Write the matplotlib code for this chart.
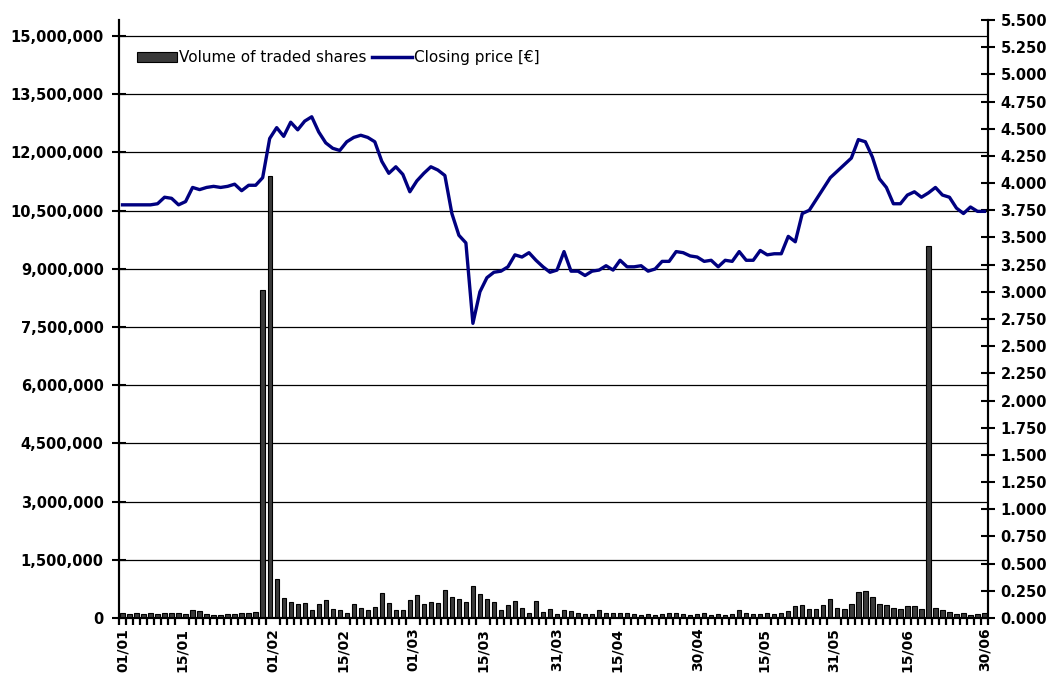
import numpy as np
import matplotlib
matplotlib.use("Agg")
import matplotlib.pyplot as plt
from matplotlib.ticker import FuncFormatter, MultipleLocator, FixedLocator
from matplotlib.patches import Patch
from matplotlib.lines import Line2D

# ---------------- data (one value per trading day) ----------------
volume = [
    120000, 100000, 120000, 100000, 129000, 100000, 129000, 129000, 129000, 100000,
    206000, 190000, 100000, 86000, 86000, 100000, 100000, 120000, 129000, 163000,
    8450000, 11390000, 997000, 520000, 410000, 360000, 387000, 206000, 360000, 464000,
    232000, 206000, 129000, 360000, 258000, 206000, 292000, 644000, 387000, 206000,
    206000, 464000, 593000, 360000, 421000, 387000, 722000, 550000, 490000, 404000,
    816000, 618000, 490000, 404000, 206000, 335000, 430000, 258000, 129000, 430000,
    163000, 232000, 103000, 206000, 172000, 129000, 103000, 103000, 206000, 129000,
    129000, 129000, 129000, 103000, 90000, 110000, 80000, 100000, 120000, 129000,
    110000, 90000, 100000, 120000, 90000, 100000, 80000, 110000, 206000, 129000,
    110000, 100000, 120000, 110000, 140000, 189000, 318000, 335000, 232000, 232000,
    335000, 490000, 258000, 232000, 361000, 662000, 704000, 533000, 361000, 335000,
    258000, 232000, 318000, 318000, 232000, 9590000, 258000, 206000, 146000, 103000,
    129000, 77000, 103000, 129000,
]

price = [
    3.80, 3.80, 3.80, 3.80, 3.80, 3.81, 3.87, 3.86, 3.80, 3.83,
    3.96, 3.94, 3.96, 3.97, 3.96, 3.97, 3.99, 3.93, 3.98, 3.98,
    4.05, 4.41, 4.51, 4.43, 4.56, 4.49, 4.57, 4.61, 4.47, 4.37,
    4.32, 4.30, 4.38, 4.42, 4.44, 4.42, 4.38, 4.20, 4.09, 4.15,
    4.08, 3.92, 4.02, 4.09, 4.15, 4.12, 4.07, 3.72, 3.52, 3.45,
    2.71, 3.00, 3.13, 3.18, 3.19, 3.23, 3.34, 3.32, 3.36, 3.29,
    3.23, 3.18, 3.20, 3.37, 3.19, 3.19, 3.15, 3.19, 3.20, 3.24,
    3.20, 3.29, 3.23, 3.23, 3.24, 3.19, 3.21, 3.28, 3.28, 3.37,
    3.36, 3.33, 3.32, 3.28, 3.29, 3.23, 3.29, 3.28, 3.37, 3.29,
    3.29, 3.38, 3.34, 3.35, 3.35, 3.51, 3.46, 3.72, 3.75, 3.85,
    3.95, 4.05, 4.11, 4.17, 4.23, 4.40, 4.38, 4.24, 4.04, 3.96,
    3.81, 3.81, 3.89, 3.92, 3.87, 3.91, 3.96, 3.89, 3.87, 3.77,
    3.72, 3.78, 3.74, 3.74,
]

tick_labels = ["01/01", "15/01", "01/02", "15/02", "01/03", "15/03", "31/03",
               "15/04", "30/04", "15/05", "31/05", "15/06", "30/06"]
tick_index = [0, 8.5, 21.5, 31.5, 41.5, 51.5, 62, 70.5, 82, 91.5, 101.5, 112, 123]

# ---------------- figure ----------------
plt.rcParams['font.family'] = ['DejaVu Sans']
N = len(price)
x = np.arange(N)

fig = plt.figure(figsize=(10.46, 6.73), dpi=100)
ax = fig.add_axes([119 / 1046, 1 - 618 / 673, 869 / 1046, 598 / 673])
ax2 = ax.twinx()

ax.bar(x, volume, width=0.62, color='#3a3a3a', edgecolor='black', linewidth=0.8, zorder=3)
ax2.plot(x, price, color='#000080', linewidth=2.4, solid_joinstyle='round', zorder=4)

ax.set_xlim(-0.5, N - 0.5)
ax.set_ylim(0, 15e6 * 598 / 582)
ax2.set_ylim(0, 5.5)

# grid
ax.set_yticks(np.arange(0, 15e6 + 1, 1.5e6))
ax.yaxis.grid(True, color='black', linewidth=0.9)
ax.set_axisbelow(True)
ax.yaxis.set_major_formatter(FuncFormatter(lambda v, p: f"{int(round(v)):,}"))

ax2.yaxis.set_major_locator(MultipleLocator(0.25))
ax2.yaxis.set_major_formatter(FuncFormatter(lambda v, p: f"{v:.3f}"))

# x ticks
ax.xaxis.set_major_locator(FixedLocator(tick_index))
ax.set_xticklabels(tick_labels, rotation=90, fontweight='bold', fontsize=10)
ax.xaxis.set_minor_locator(FixedLocator(np.arange(-0.5, N, 1.0)))
ax.tick_params(axis='x', which='major', length=0, pad=7)
ax.tick_params(axis='x', which='minor', length=5, width=1.6, direction='out', color='black')

for a in (ax, ax2):
    a.spines['top'].set_visible(False)
    for s in ('left', 'right', 'bottom'):
        a.spines[s].set_linewidth(1.5)

ax.tick_params(axis='y', which='major', direction='inout', length=10, width=1.5, pad=6,
               labelsize=10.5)
ax2.tick_params(axis='y', which='major', direction='inout', length=10, width=1.5, pad=4,
                labelsize=10.5)
for lab in ax.get_yticklabels() + ax2.get_yticklabels():
    lab.set_fontweight('bold')

handles = [Patch(facecolor='#3a3a3a', edgecolor='black', linewidth=0.8),
           Line2D([0], [0], color='#000080', linewidth=2.5)]
ax.legend(handles, ["Volume of traded shares", "Closing price [€]"], ncol=2,
          loc='upper left', bbox_to_anchor=(0.01, 0.965), frameon=False,
          fontsize=11, handlelength=2.6, handleheight=0.6, handletextpad=0.15,
          columnspacing=0.4, borderaxespad=0.2)

fig.savefig("out.png", dpi=100)
